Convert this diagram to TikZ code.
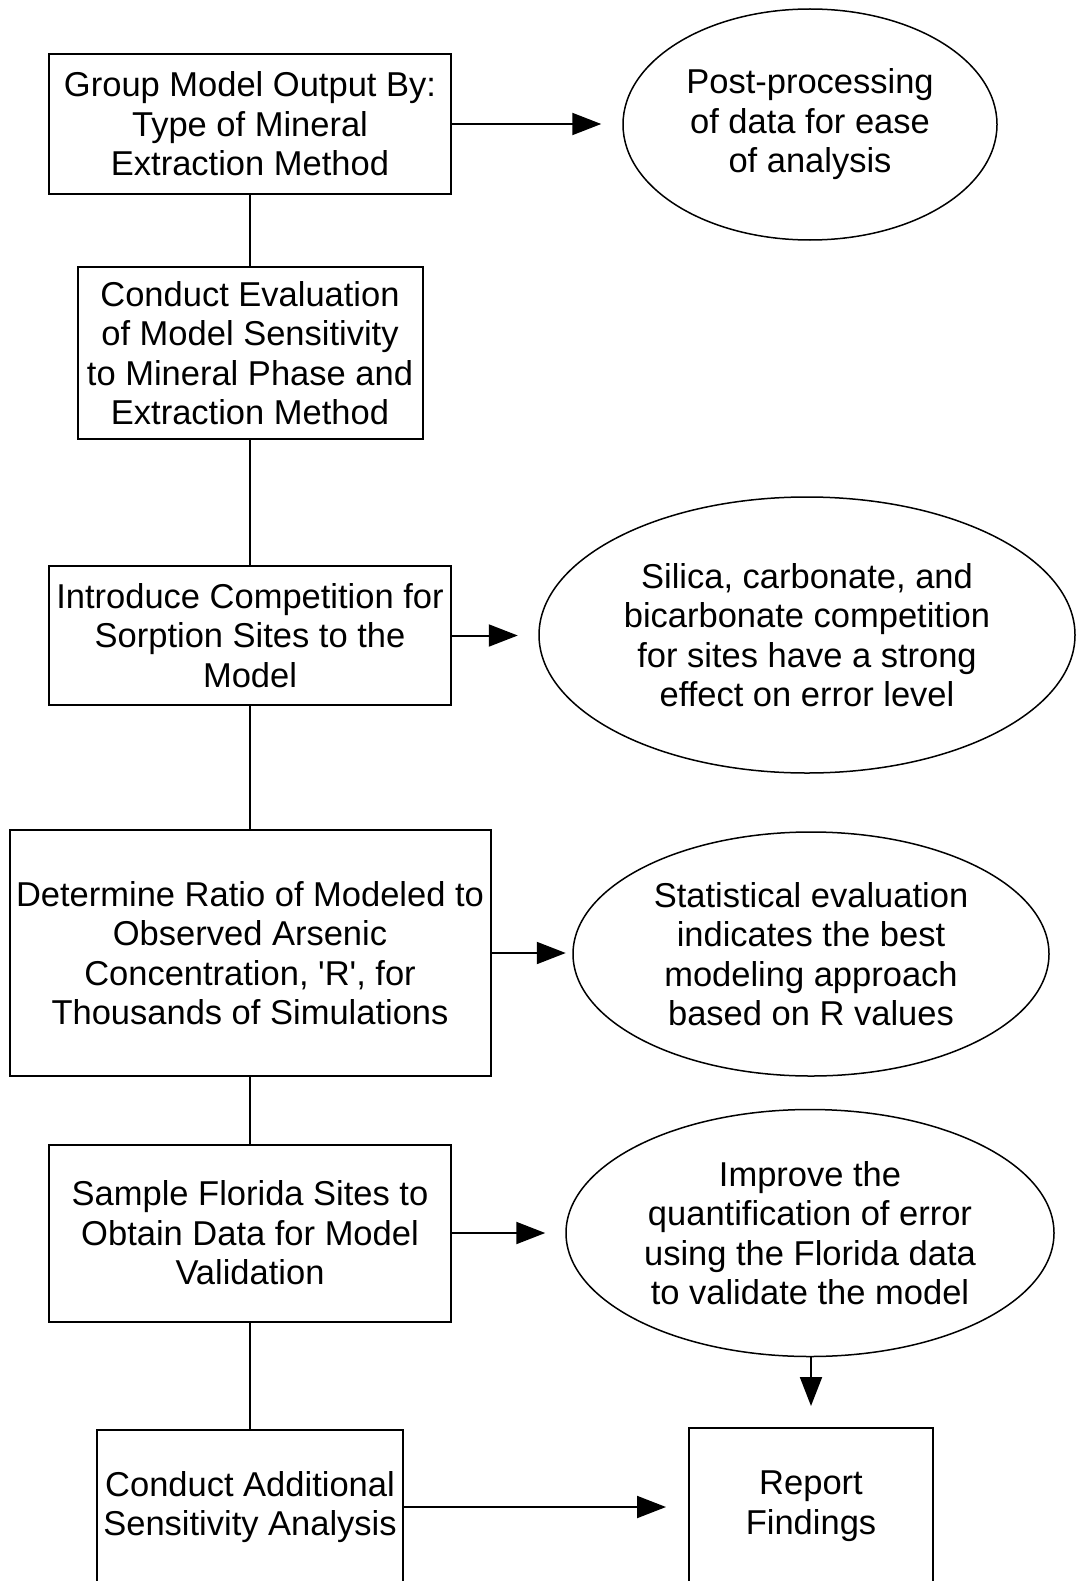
\documentclass[tikz,border=0pt]{standalone}
\usepackage{fontspec}
\newfontfamily\lsans{Liberation Sans}
\usetikzlibrary{shapes.geometric,arrows.meta}
\begin{document}
\begin{tikzpicture}[x=1pt,y=-1pt,
  txt/.style={align=center,font=\lsans\fontsize{34.5}{39.5}\selectfont,inner sep=0pt},
  boxnode/.style={txt,draw,line width=2pt,rectangle},
  ellnode/.style={txt,draw,line width=1.5pt,ellipse},
  link/.style={line width=2pt},
  arr/.style={line width=2pt,-{Triangle[length=29pt,width=22pt]}}]
\useasboundingbox (0,0) rectangle (1076,1581);
\clip (0,0) rectangle (1076,1581);
\node[boxnode,minimum width=402pt,minimum height=140pt] (b1) at (250,124) {Group Model Output By:\\Type of Mineral\\Extraction Method};
\node[ellnode,minimum width=374pt,minimum height=231pt] (e1) at (810,124.5) {Post-processing\\of data for ease\\of analysis};
\node[boxnode,minimum width=345pt,minimum height=172pt] (b2) at (250,353) {Conduct Evaluation\\of Model Sensitivity\\to Mineral Phase and\\Extraction Method};
\node[boxnode,minimum width=402pt,minimum height=139pt] (b3) at (250,635.5) {Introduce Competition for\\Sorption Sites to the\\Model};
\node[ellnode,minimum width=536pt,minimum height=276pt] (e2) at (807,635) {Silica, carbonate, and\\bicarbonate competition\\for sites have a strong\\effect on error level};
\node[boxnode,minimum width=481pt,minimum height=246pt] (b4) at (250,953) {Determine Ratio of Modeled to\\Observed Arsenic\\Concentration, 'R', for\\Thousands of Simulations};
\node[ellnode,minimum width=476pt,minimum height=244pt] (e3) at (811,954) {Statistical evaluation\\indicates the best\\modeling approach\\based on R values};
\node[boxnode,minimum width=402pt,minimum height=177pt] (b5) at (250,1233) {Sample Florida Sites to\\Obtain Data for Model\\Validation};
\node[ellnode,minimum width=488pt,minimum height=247pt] (e4) at (810,1233) {Improve the\\quantification of error\\using the Florida data\\to validate the model};
\node[boxnode,minimum width=306pt,minimum height=154pt] (b6) at (250,1507) {Conduct Additional\\Sensitivity Analysis};
\node[boxnode,minimum width=244pt,minimum height=156pt] (b7) at (811,1506) {Report\\Findings};
% vertical spine
\draw[link] (b1.south) -- (b2.north);
\draw[link] (b2.south) -- (b3.north);
\draw[link] (b3.south) -- (b4.north);
\draw[link] (b4.south) -- (b5.north);
\draw[link] (b5.south) -- (b6.north);
% arrows
\draw[arr,shorten >=21pt] (b1.east) -- (b1.east -| e1.west);
\draw[arr,shorten >=20.5pt] (b3.east) -- (b3.east -| e2.west);
\draw[arr,shorten >=6.5pt] (b4.east) -- (b4.east -| e3.west);
\draw[arr,shorten >=20pt] (b5.east) -- (b5.east -| e4.west);
\draw[arr,shorten >=21pt] (e4.south -| b7.north) -- (b7.north);
\draw[arr,shorten >=22pt] (b6.east) -- (b6.east -| b7.west);
\end{tikzpicture}
\end{document}
